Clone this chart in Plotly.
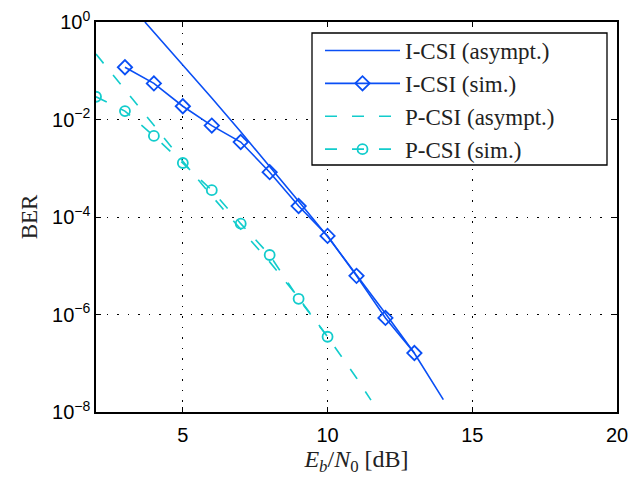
import plotly.graph_objects as go

# I-CSI asymptotic curve
icsi_asym_x = [3.69, 5, 6, 7, 8, 9, 10, 11, 12, 13, 14]
icsi_asym_y = [1.0, 1.32e-1, 2.75e-2, 5.6e-3, 1.1e-3, 2.1e-4, 4.0e-5, 6.6e-6, 1.05e-6, 1.6e-7, 1.8e-8]

# I-CSI simulation
icsi_sim_x = [3, 4, 5, 6, 7, 8, 9, 10, 11, 12, 13]
icsi_sim_y = [1.18e-1, 5.5e-2, 1.87e-2, 7.5e-3, 3.45e-3, 8.3e-4, 1.68e-4, 4.1e-5, 6.2e-6, 8.5e-7, 1.62e-7]

# P-CSI asymptotic curve
pcsi_asym_x = [2, 3, 4, 5, 6, 7, 8, 9, 10, 11, 11.5]
pcsi_asym_y = [2.2e-1, 4.0e-2, 7.6e-3, 1.4e-3, 2.7e-4, 5.6e-5, 1.2e-5, 2.2e-6, 3.5e-7, 5.0e-8, 1.75e-8]

# P-CSI simulation
pcsi_sim_x = [2, 3, 4, 5, 6, 7, 8, 9, 10]
pcsi_sim_y = [2.93e-2, 1.49e-2, 4.6e-3, 1.28e-3, 3.55e-4, 7.3e-5, 1.66e-5, 2.1e-6, 3.5e-7]

x_ticks = [5, 10, 15, 20]
y_ticks = [1e-8, 1e-6, 1e-4, 1e-2, 1]
y_tick_text = ["10<sup>\u22128</sup>", "10<sup>\u22126</sup>", "10<sup>\u22124</sup>",
               "10<sup>\u22122</sup>", "10<sup>0</sup>"]

BLUE = "#0a4ff5"
CYAN = "#12cccc"
DASH = "12px,15px"

fig = go.Figure()
fig.add_trace(go.Scatter(x=icsi_asym_x, y=icsi_asym_y, mode="lines",
                         name="I-CSI (asympt.)", legendgroup="a",
                         line=dict(color=BLUE, width=1.6)))
fig.add_trace(go.Scatter(x=icsi_sim_x, y=icsi_sim_y, mode="lines+markers",
                         name="I-CSI (sim.)", legendgroup="b",
                         line=dict(color=BLUE, width=1.6),
                         marker=dict(symbol="diamond-open", size=11, color=BLUE,
                                     line=dict(width=1.8, color=BLUE))))
fig.add_trace(go.Scatter(x=pcsi_asym_x, y=pcsi_asym_y, mode="lines",
                         name="P-CSI (asympt.)", legendgroup="c",
                         line=dict(color=CYAN, width=1.6, dash=DASH)))
fig.add_trace(go.Scatter(x=pcsi_sim_x, y=pcsi_sim_y, mode="lines+markers",
                         name="P-CSI (sim.)", legendgroup="d",
                         line=dict(color=CYAN, width=1.6, dash=DASH),
                         marker=dict(symbol="circle-open", size=10, color=CYAN,
                                     line=dict(width=1.8, color=CYAN))))

# legend frame (plot area spans px 96..617 horizontally, 22..412 vertically)
fig.add_shape(type="rect", xref="paper", yref="paper",
              x0=(312 - 96) / 521, x1=(607 - 96) / 521,
              y0=(412 - 165) / 390, y1=(412 - 33) / 390,
              fillcolor="white", line=dict(color="black", width=1.3), layer="above")

fig.update_layout(
    width=638, height=477,
    margin=dict(l=96, r=21, t=22, b=65, autoexpand=False),
    paper_bgcolor="white", plot_bgcolor="white",
    showlegend=True,
    legend=dict(x=(320 - 96) / 521, y=(412 - 29) / 390, xanchor="left", yanchor="top",
                bgcolor="rgba(0,0,0,0)", borderwidth=0,
                font=dict(family="Liberation Serif", size=23, color="#222"),
                tracegroupgap=1, traceorder="normal", itemwidth=75),
    xaxis=dict(range=[2, 20], tickvals=x_ticks,
               ticks="inside", ticklen=5, tickcolor="black",
               showline=True, linecolor="black", linewidth=1.5, mirror="ticks",
               showgrid=True, gridcolor="black", gridwidth=1, griddash="1.5px,9px",
               zeroline=False, ticklabelstandoff=4,
               tickfont=dict(family="Liberation Sans", size=20, color="black"),
               title=dict(text="<i>E</i><sub><i>b</i></sub>/<i>N</i><sub>0</sub> [dB]",
                          font=dict(family="Liberation Serif", size=24, color="#222"),
                          standoff=0)),
    yaxis=dict(type="log", range=[-8, 0], tickvals=y_ticks, ticktext=y_tick_text,
               ticks="inside", ticklen=5, tickcolor="black",
               showline=True, linecolor="black", linewidth=1.5, mirror="ticks",
               showgrid=True, gridcolor="black", gridwidth=1, griddash="1.5px,9px",
               zeroline=False,
               tickfont=dict(family="Liberation Sans", size=20, color="black"),
               title=dict(text="BER",
                          font=dict(family="Liberation Serif", size=23, color="#222"),
                          standoff=8)),
)

fig.write_html("out.html", config={"displayModeBar": False},
               post_script="document.body.style.margin='0px';")
